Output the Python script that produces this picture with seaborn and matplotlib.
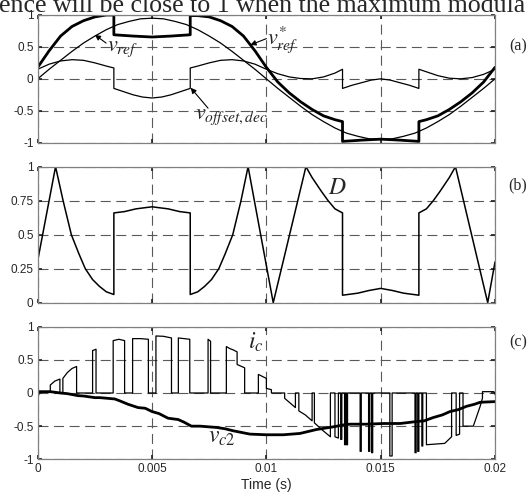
import numpy as np
import matplotlib
matplotlib.use("Agg")
import matplotlib.pyplot as plt
import seaborn as sns

# ---- panel (a): times in ms ----
t_vref = [0, 0.5, 1, 1.5, 2, 2.5, 3, 3.5, 4, 4.5, 5, 5.5, 6, 6.5, 7, 7.5, 8, 8.5, 9, 9.5, 10,
          10.5, 11, 11.5, 12, 12.5, 13, 13.5, 14, 14.5, 15, 15.5, 16, 16.5, 17, 17.5, 18, 18.5, 19, 19.5, 20]
v_ref = [0, 0.15, 0.29, 0.43, 0.56, 0.67, 0.77, 0.85, 0.90, 0.94, 0.95, 0.94, 0.90, 0.85, 0.77, 0.67,
         0.56, 0.43, 0.29, 0.15, 0, -0.15, -0.29, -0.43, -0.56, -0.67, -0.77, -0.85, -0.90, -0.94, -0.95,
         -0.94, -0.90, -0.85, -0.77, -0.67, -0.56, -0.43, -0.29, -0.15, 0]

t_vstar = [0, 0.5, 1.0, 1.5, 2.0, 2.5, 3.0, 3.33, 3.33, 4.17, 5.0, 5.83, 6.67, 6.67, 7.0, 7.5, 8.0, 8.5,
           9.0, 9.5, 10.0, 10.5, 11.0, 11.5, 12.0, 12.5, 13.0, 13.33, 13.33, 14.17, 15.0, 15.83, 16.67,
           16.67, 17.0, 17.5, 18.0, 18.5, 19.0, 19.5, 20.0]
v_star = [0.18, 0.44, 0.67, 0.82, 0.91, 0.97, 1.0, 1.0, 0.69, 0.67, 0.655, 0.67, 0.69, 0.99, 0.99, 0.97,
          0.91, 0.82, 0.67, 0.44, 0.18, -0.05, -0.22, -0.36, -0.48, -0.58, -0.64, -0.67, -0.98, -0.96,
          -0.945, -0.96, -0.98, -0.67, -0.64, -0.58, -0.48, -0.36, -0.22, -0.05, 0.18]

t_off = [0, 0.5, 1.0, 1.5, 2.0, 2.5, 3.0, 3.33, 3.33, 3.75, 4.17, 4.58, 5.0, 5.42, 5.83, 6.25, 6.67,
         6.67, 7.0, 7.5, 8.0, 8.5, 9.0, 9.5, 10.0, 10.5, 11.0, 11.5, 12.0, 12.5, 13.0, 13.33, 13.33,
         13.75, 14.17, 14.58, 15.0, 15.42, 15.83, 16.25, 16.67, 16.67, 17.0, 17.5, 18.0, 18.5, 19.0,
         19.5, 20.0]
v_off = [0.15, 0.23, 0.28, 0.30, 0.29, 0.25, 0.20, 0.17, -0.15, -0.20, -0.25, -0.285, -0.30, -0.285,
         -0.25, -0.20, -0.15, 0.17, 0.20, 0.25, 0.29, 0.30, 0.28, 0.23, 0.15, 0.08, 0.03, 0.005, 0.0,
         0.03, 0.09, 0.15, -0.15, -0.10, -0.06, -0.02, 0.0, -0.02, -0.06, -0.10, -0.15, 0.15, 0.11,
         0.05, 0.01, 0.0, 0.02, 0.07, 0.15]

# ---- panel (b): duty ratio D ----
t_d = [0, 0.78, 1.11, 1.47, 1.8, 2.08, 2.4, 2.7, 3.0, 3.33, 3.33, 3.8, 4.3, 5.0, 5.7, 6.2, 6.67, 6.67,
       7.0, 7.3, 7.6, 7.92, 8.2, 8.53, 8.89, 9.2, 10.3, 11.73, 12.0, 12.4, 12.7, 13.0, 13.33, 13.33,
       14.0, 14.5, 15.0, 15.5, 16.0, 16.67, 16.67, 17.0, 17.3, 17.6, 18.0, 18.27, 19.68, 20.0]
v_d = [0.31, 1.0, 0.75, 0.5, 0.36, 0.25, 0.17, 0.12, 0.08, 0.06, 0.66, 0.67, 0.69, 0.705, 0.69, 0.67,
       0.66, 0.06, 0.08, 0.12, 0.17, 0.25, 0.36, 0.5, 0.75, 1.0, 0.0, 1.0, 0.92, 0.82, 0.75, 0.69, 0.66,
       0.055, 0.07, 0.09, 0.105, 0.09, 0.07, 0.055, 0.66, 0.69, 0.75, 0.82, 0.92, 1.0, 0.0, 0.30]

# ---- panel (c): capacitor current i_c and voltage v_c2 ----
t_ic = [0, 0.08, 0.55, 0.55, 0.75, 0.97, 0.97, 1.1, 1.1, 1.3, 1.5, 1.7, 1.7,
        2.4, 2.4, 2.55, 2.55,
        3.3, 3.3, 3.55, 3.8, 3.8,
        4.15, 4.15, 4.5, 4.84, 4.84,
        5.17, 5.17, 5.5, 5.85, 5.85,
        6.15, 6.15, 6.65, 6.65,
        7.45, 7.45, 7.56, 7.56,
        8.25, 8.25, 8.4, 8.55, 8.72, 8.72, 9.05, 9.05,
        9.65, 9.65, 10.0, 10.0, 10.22, 10.22,
        10.8, 10.8, 11.0, 11.27, 11.27, 11.42, 11.42, 11.7, 12.0, 12.0, 12.1, 12.1, 12.45, 12.8, 12.8,
        13.0, 13.0, 13.15, 13.15, 13.25, 13.25, 13.3, 13.3, 13.42, 13.42, 13.46, 13.46, 13.5, 13.5,
        13.55, 13.55,
        14.1, 14.1, 14.15, 14.15, 14.47, 14.47, 14.52, 14.52, 14.6, 14.6, 14.65, 14.65,
        15.4, 15.4, 15.5, 15.5,
        16.5, 16.5, 16.55, 16.55, 16.62, 16.62, 16.67, 16.67, 16.8, 16.8, 16.84, 16.84,
        17.0, 17.0, 17.4, 17.8, 18.1, 18.1, 18.3, 18.3, 18.45, 18.45,
        18.6, 18.6, 19.05, 19.35, 19.45, 19.45, 19.95, 20.0]
v_ic = [-0.08, 0.02, 0.02, 0.12, 0.18, 0.21, 0.0, 0.0, 0.22, 0.31, 0.37, 0.40, 0.0,
        0.0, 0.64, 0.66, 0.0,
        0.0, 0.79, 0.81, 0.79, 0.0,
        0.0, 0.82, 0.82, 0.81, 0.0,
        0.0, 0.86, 0.855, 0.83, 0.0,
        0.0, 0.83, 0.81, 0.0,
        0.0, 0.81, 0.78, 0.0,
        0.0, 0.70, 0.67, 0.65, 0.62, 0.43, 0.38, 0.0,
        0.0, 0.28, 0.22, 0.07, 0.05, 0.0,
        0.0, -0.08, -0.14, -0.22, 0.0, 0.0, -0.27, -0.33, -0.42, 0.0, 0.0, -0.45, -0.56, -0.66, 0.0,
        0.0, -0.66, -0.68, 0.0, 0.0, -0.70, -0.70, 0.0, 0.0, -0.78, -0.78, 0.0, 0.0, -0.78,
        -0.78, 0.0,
        0.0, -0.88, -0.88, 0.0, 0.0, -0.88, -0.88, 0.0, 0.0, -0.90, -0.90, 0.0,
        0.0, -0.95, -0.95, 0.0,
        0.0, -0.90, -0.90, 0.0, 0.0, -0.88, -0.88, 0.0, 0.0, -0.80, -0.80, 0.0,
        0.0, -0.78, -0.77, -0.76, -0.66, 0.0, 0.0, -0.64, -0.62, 0.0,
        0.0, -0.50, -0.50, -0.20, -0.08, 0.02, 0.02, -0.02]

t_vc2 = [0, 0.55, 1.0, 1.3, 1.76, 2.0, 2.5, 2.72, 3.37, 3.6, 3.95, 4.39, 4.7, 5.0, 5.3, 5.7, 6.14, 6.4,
         6.72, 7.1, 7.83, 8.2, 8.55, 9.28, 10.0, 10.74, 11.47, 12.2, 12.93, 13.4, 13.66, 14.39, 15.12,
         15.85, 16.58, 16.9, 17.3, 17.7, 18.03, 18.4, 18.76, 19.1, 19.35, 20.0]
v_c2 = [0.02, 0.02, 0.0, -0.01, -0.04, -0.045, -0.07, -0.07, -0.09, -0.12, -0.17, -0.22, -0.23, -0.28,
        -0.31, -0.38, -0.40, -0.44, -0.50, -0.50, -0.52, -0.54, -0.57, -0.62, -0.63, -0.63, -0.61,
        -0.55, -0.51, -0.48, -0.47, -0.47, -0.46, -0.46, -0.43, -0.42, -0.37, -0.33, -0.28, -0.25,
        -0.20, -0.17, -0.14, -0.13]

x_ticks = [0, 0.005, 0.01, 0.015, 0.02]
x_labels = ["0", "0.005", "0.01", "0.015", "0.02"]
y_ticks_a = [-1, -0.5, 0, 0.5, 1]
y_labels_a = ["-1", "-0.5", "0", "0.5", "1"]
y_ticks_b = [0, 0.25, 0.5, 0.75, 1]
y_labels_b = ["0", "0.25", "0.5", "0.75", "1"]

sns.set_theme(style="white")
plt.rcParams["font.family"] = ["Liberation Sans", "DejaVu Sans"]
plt.rcParams["mathtext.fontset"] = "stix"
plt.rcParams["axes.unicode_minus"] = False

fig = plt.figure(figsize=(5.32, 4.98), dpi=100)
ax_a = fig.add_axes([0.0709, 0.7135, 0.8596, 0.2564])
ax_b = fig.add_axes([0.0709, 0.3922, 0.8596, 0.2731])
ax_c = fig.add_axes([0.0709, 0.0777, 0.8596, 0.2663])


def ms(t):
    return np.array(t) / 1000.0


def line(ax, t, v, lw):
    sns.lineplot(x=ms(t), y=v, ax=ax, sort=False, estimator=None, color="black", linewidth=lw)


def style(ax, yt, yl, ylim, show_x):
    ax.set_xlim(0, 0.02)
    ax.set_ylim(*ylim)
    ax.set_xticks(x_ticks)
    ax.set_xticklabels(x_labels if show_x else [])
    ax.set_yticks(yt)
    ax.set_yticklabels(yl)
    ax.grid(True, linestyle=(0, (9, 5)), color="0.35", linewidth=0.8)
    ax.tick_params(direction="in", length=3, labelsize=8.5, colors="0.15", pad=3,
                   top=True, right=True, bottom=True, left=True)
    for s in ax.spines.values():
        s.set_color("0.5")
        s.set_linewidth(0.9)
    ax.set_xlabel("")
    ax.set_ylabel("")


arrow = dict(arrowstyle="-|>", color="black", lw=0.8, mutation_scale=8, shrinkA=0, shrinkB=0)

# (a)
line(ax_a, t_off, v_off, 0.9)
line(ax_a, t_vref, v_ref, 0.9)
line(ax_a, t_vstar, v_star, 2.0)
style(ax_a, y_ticks_a, y_labels_a, (-1, 1), False)
ax_a.text(0.00305, 0.43, r"$v_{ref}$", fontsize=16, ha="left", va="baseline")
ax_a.annotate("", xy=(0.0025, 0.69), xytext=(0.00299, 0.56), arrowprops=arrow)
ax_a.text(0.01003, 0.55, r"$v^{*}_{ref}$", fontsize=16, ha="left", va="baseline")
ax_a.annotate("", xy=(0.0093, 0.53), xytext=(0.0100, 0.63), arrowprops=arrow)
ax_a.text(0.0069, -0.63, r"$v_{offset,dec}$", fontsize=16, ha="left", va="baseline")
ax_a.annotate("", xy=(0.00669, -0.14), xytext=(0.00745, -0.46), arrowprops=arrow)

# (b)
line(ax_b, t_d, v_d, 1.1)
style(ax_b, y_ticks_b, y_labels_b, (0, 1), False)
ax_b.text(0.0127, 0.80, r"$D$", fontsize=17, ha="left", va="baseline")

# (c)
line(ax_c, t_ic, v_ic, 0.9)
line(ax_c, t_vc2, v_c2, 2.0)
style(ax_c, y_ticks_a, y_labels_a, (-1, 1), True)
ax_c.set_xlabel("Time (s)", fontsize=10, labelpad=2, color="0.15")
ax_c.text(0.0092, 0.67, r"$i_c$", fontsize=17, ha="left", va="baseline")
ax_c.text(0.00745, -0.75, r"$v_{c2}$", fontsize=17, ha="left", va="baseline")

for lab, ypx in [("(a)", 46), ("(b)", 185), ("(c)", 342)]:
    fig.text(518 / 532, 1 - ypx / 498, lab, fontsize=11.5, family="Liberation Serif",
             ha="center", va="center")

fig.text(-0.002, 1 - 12.5 / 498, "ence will be close to 1 when the maximum modula",
         fontsize=18.6, family="Liberation Serif", ha="left", va="baseline")

fig.savefig("out.png", dpi=100)
